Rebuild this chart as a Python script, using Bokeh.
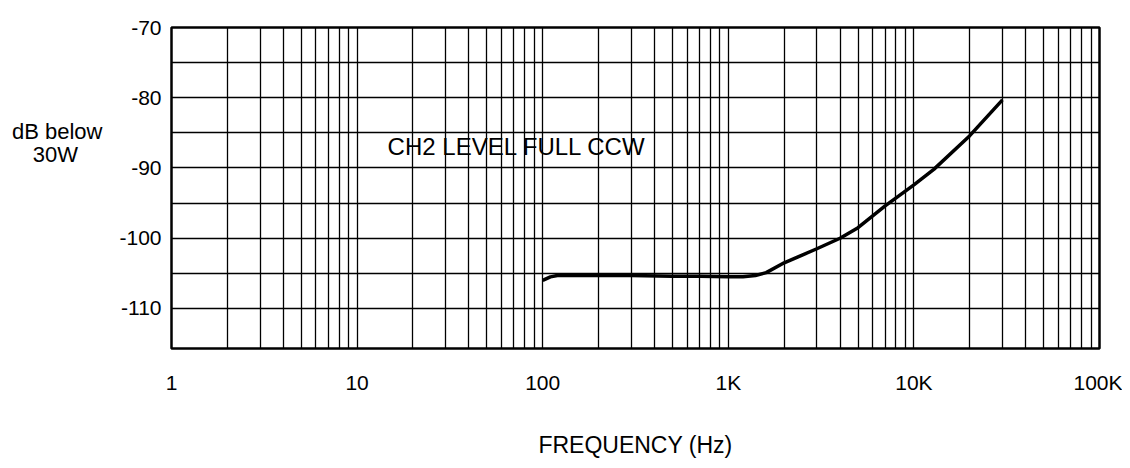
from bokeh.plotting import figure
from bokeh.models import FixedTicker, CustomJSTickFormatter, Label, Range1d
from bokeh.embed import file_html
from bokeh.resources import INLINE

# ---- data ----
freq_hz = [100, 110, 120, 150, 200, 300, 500, 700, 1000, 1200, 1400, 1600,
           2000, 2500, 3000, 4000, 5000, 7000, 10000, 12800, 20000, 30000]
level_db = [-106.0, -105.5, -105.3, -105.3, -105.3, -105.3, -105.4, -105.4,
            -105.5, -105.5, -105.3, -104.9, -103.5, -102.4, -101.5, -100.0,
            -98.5, -95.4, -92.4, -90.2, -85.4, -80.3]

x_major = [1, 10, 100, 1000, 10000, 100000]
x_labels = ["1", "10", "100", "1K", "10K", "100K"]
y_major = [-110, -100, -90, -80, -70]
y_grid = [-110, -105, -100, -95, -90, -85, -80, -75, -70]
x_grid = [m * 10 ** k for k in range(5) for m in range(1, 10)] + [100000]

curve_label = "CH2 LEVEL FULL CCW"
y_title_lines = ["dB below", "30W"]
x_title = "FREQUENCY (Hz)"

FONT = "Liberation Sans"
NBSP = "\u00a0"

p = figure(width=1122, height=460, x_axis_type="log",
           x_range=Range1d(1, 100000), y_range=Range1d(-115.7, -70),
           output_backend="svg", toolbar_location=None,
           min_border_left=171, min_border_right=23,
           min_border_top=27, min_border_bottom=110)

p.background_fill_color = "white"
p.border_fill_color = "white"
p.outline_line_color = "black"
p.outline_line_width = 2.5

# x axis
p.xaxis.ticker = FixedTicker(ticks=x_major, minor_ticks=[])
p.xaxis.formatter = CustomJSTickFormatter(
    args=dict(vals=x_major, labs=x_labels),
    code="""
    for (let i = 0; i < vals.length; i++) {
        if (Math.abs(Math.log10(tick) - Math.log10(vals[i])) < 1e-6) return labs[i];
    }
    return "";
    """)
p.xaxis.axis_label = x_title
p.xaxis.axis_label_text_font = FONT
p.xaxis.axis_label_text_font_size = "23px"
p.xaxis.axis_label_text_font_style = "normal"
p.xaxis.axis_label_text_color = "black"
p.xaxis.axis_label_standoff = 35
p.xaxis.major_label_standoff = 22

# y axis
p.yaxis.ticker = FixedTicker(ticks=y_major, minor_ticks=[])
p.yaxis.formatter = CustomJSTickFormatter(code="return tick.toFixed(0);")
p.yaxis.major_label_standoff = 10
# title block: second line padded so both lines share a centre
y_title_text = [y_title_lines[0], y_title_lines[1] + NBSP * 4] + [NBSP] * 4
p.yaxis.axis_label = "\n".join(y_title_text)
p.yaxis.axis_label_orientation = "horizontal"
p.yaxis.axis_label_text_align = "center"
p.yaxis.axis_label_text_font = FONT
p.yaxis.axis_label_text_font_size = "22px"
p.yaxis.axis_label_text_font_style = "normal"
p.yaxis.axis_label_text_color = "black"
p.yaxis.axis_label_text_line_height = 0.9
p.yaxis.axis_label_standoff = 14

for ax in (p.xaxis, p.yaxis):
    ax.axis_line_color = None
    ax.major_tick_line_color = None
    ax.minor_tick_line_color = None
    ax.major_tick_out = 0
    ax.major_tick_in = 0
    ax.minor_tick_out = 0
    ax.minor_tick_in = 0
    ax.major_label_text_font = FONT
    ax.major_label_text_font_size = "21px"
    ax.major_label_text_color = "black"

# grids
p.xgrid.ticker = FixedTicker(ticks=x_grid)
p.ygrid.ticker = FixedTicker(ticks=y_grid)
for g in (p.xgrid, p.ygrid):
    g.grid_line_color = "black"
    g.grid_line_width = 1.3
    g.grid_line_alpha = 1.0

# curve
p.line(freq_hz, level_db, line_color="black", line_width=3.5)

# texts
p.add_layout(Label(x=14.6, y=-86.9, text=curve_label, text_font=FONT,
                   text_font_size="24px", text_color="black",
                   text_align="left", text_baseline="middle"))

open("out.html", "w").write(file_html(p, INLINE))
